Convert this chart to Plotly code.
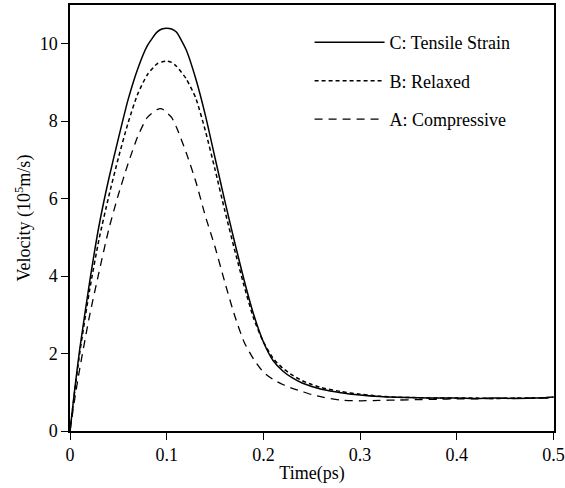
import plotly.graph_objects as go

time_ps = [0, 0.005, 0.01, 0.02, 0.03, 0.04, 0.05, 0.06, 0.07, 0.08,
           0.09, 0.095, 0.10, 0.105, 0.11, 0.12, 0.13, 0.14, 0.15, 0.16,
           0.17, 0.18, 0.19, 0.20, 0.21, 0.22, 0.23, 0.24, 0.25, 0.26,
           0.28, 0.30, 0.32, 0.34, 0.36, 0.38, 0.40, 0.42, 0.44, 0.46,
           0.48, 0.49, 0.50]

vel_C = [0, 1.1, 2.1, 3.8, 5.3, 6.5, 7.55, 8.55, 9.35, 9.95,
         10.3, 10.38, 10.4, 10.38, 10.3, 9.85, 9.1, 8.15, 7.05, 5.95,
         4.9, 3.9, 3.0, 2.3, 1.82, 1.55, 1.37, 1.24, 1.15, 1.08,
         0.99, 0.93, 0.89, 0.87, 0.86, 0.85, 0.85, 0.84, 0.85, 0.84,
         0.85, 0.86, 0.88]

vel_B = [0, 1.05, 2.0, 3.6, 4.95, 6.05, 7.05, 7.95, 8.7, 9.2,
         9.48, 9.53, 9.55, 9.52, 9.42, 9.1, 8.6, 7.75, 6.75, 5.7,
         4.7, 3.75, 2.9, 2.3, 1.88, 1.62, 1.44, 1.3, 1.2, 1.12,
         1.02, 0.95, 0.9, 0.87, 0.86, 0.85, 0.85, 0.85, 0.84, 0.85,
         0.85, 0.86, 0.87]

vel_A = [0, 0.85, 1.6, 2.95, 4.1, 5.2, 6.1, 6.9, 7.6, 8.1,
         8.3, 8.32, 8.22, 8.1, 7.85, 7.2, 6.45, 5.55, 4.75, 3.85,
         3.0, 2.3, 1.85, 1.52, 1.33, 1.2, 1.1, 1.02, 0.94, 0.88,
         0.8, 0.78, 0.79, 0.8, 0.81, 0.82, 0.83, 0.83, 0.84, 0.84,
         0.85, 0.85, 0.86]

names = ["C: Tensile Strain", "B: Relaxed", "A: Compressive"]
dashes = ["solid", "4px,3px", "8px,6px"]
widths = [1.5, 1.5, 1.3]

x_ticks = [0, 0.1, 0.2, 0.3, 0.4, 0.5]
x_tick_text = ["0", "0.1", "0.2", "0.3", "0.4", "0.5"]
y_ticks = [0, 2, 4, 6, 8, 10]

FONT = "Liberation Serif, Times New Roman, serif"

fig = go.Figure()
for i, (name, ys) in enumerate(zip(names, [vel_C, vel_B, vel_A])):
    fig.add_trace(go.Scatter(
        x=time_ps, y=ys, mode="lines", name=name, legendgroup=str(i),
        line=dict(color="black", width=widths[i], dash=dashes[i],
                  shape="spline", smoothing=0.6),
    ))

fig.update_layout(
    width=565, height=488,
    margin=dict(l=70, r=11, t=5, b=57, autoexpand=False),
    paper_bgcolor="white", plot_bgcolor="white",
    font=dict(family=FONT, size=18, color="black"),
    showlegend=True,
    legend=dict(x=0.495, y=0.955, xanchor="left", yanchor="top",
                bgcolor="rgba(0,0,0,0)", itemwidth=70, tracegroupgap=12,
                font=dict(family=FONT, size=18, color="black")),
)
fig.update_xaxes(
    range=[0, 0.5005], tickvals=x_ticks, ticktext=x_tick_text,
    ticks="outside", ticklen=7, tickwidth=1.3, tickcolor="black",
    showline=True, linecolor="black", linewidth=1.5, mirror=True,
    showgrid=False, zeroline=False, automargin=False,
    title=dict(text="Time(ps)", standoff=2, font=dict(family=FONT, size=18)),
)
fig.update_yaxes(
    range=[0, 11], tickvals=y_ticks,
    ticks="outside", ticklen=7, tickwidth=1.3, tickcolor="black",
    showline=True, linecolor="black", linewidth=1.5, mirror=True,
    showgrid=False, zeroline=False, automargin=False,
    title=dict(text="Velocity (10<sup>5</sup>m/s)", standoff=4,
               font=dict(family=FONT, size=18)),
)

fig.write_html("out.html", config={"displayModeBar": False},
               post_script="document.body.style.margin='0';document.body.style.overflow='hidden';")
